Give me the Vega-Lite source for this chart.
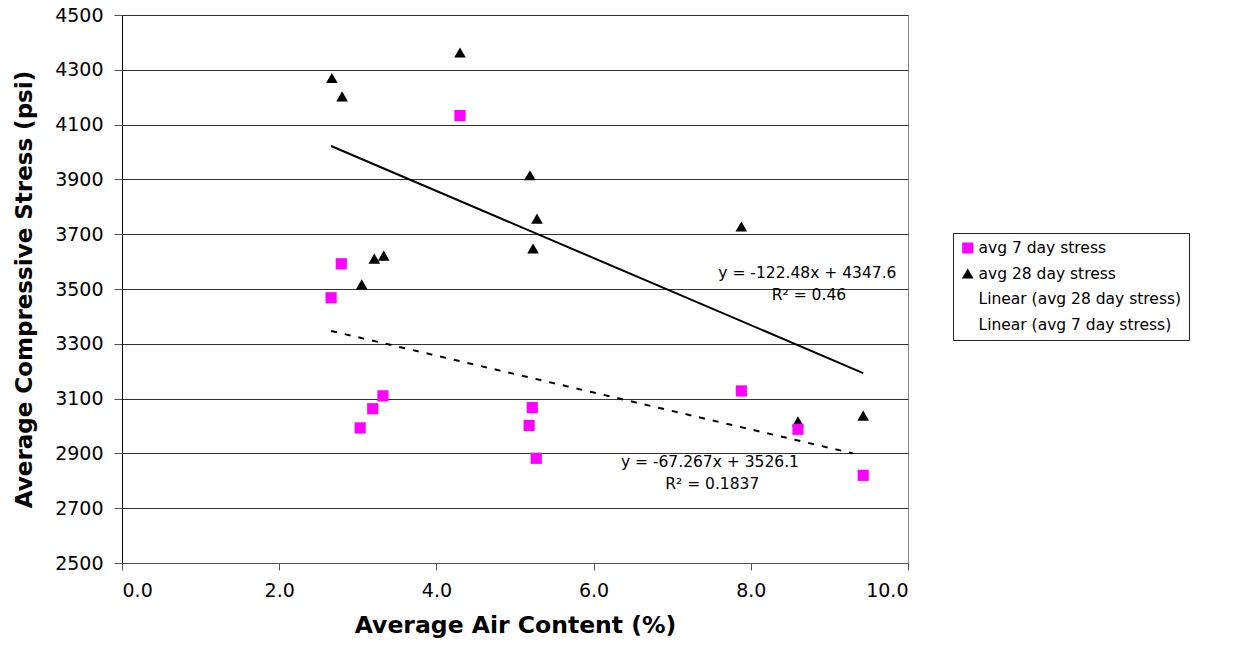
{
  "$schema": "https://vega.github.io/schema/vega-lite/v6.json",
  "autosize": {"type": "none"},
  "padding": {"left": 122, "top": 15, "right": 339, "bottom": 86},
  "width": 786,
  "height": 548,
  "background": "white",
  "config": {
    "font": "DejaVu Sans",
    "view": {"stroke": "#888888", "strokeWidth": 1},
    "legend": {
      "title": null,
      "orient": "none",
      "legendX": 831,
      "legendY": 218,
      "strokeColor": "#222222",
      "padding": 7,
      "rowPadding": 8.5,
      "clipHeight": 16,
      "labelFontSize": 15.5,
      "labelColor": "black",
      "labelLimit": 300,
      "labelOffset": 3,
      "symbolOpacity": 1
    }
  },
  "datasets": {
    "pts": [
      {"air": 2.67, "stress": 4270, "series": "avg 28 day stress"},
      {"air": 2.80, "stress": 4203, "series": "avg 28 day stress"},
      {"air": 4.30, "stress": 4363, "series": "avg 28 day stress"},
      {"air": 5.19, "stress": 3915, "series": "avg 28 day stress"},
      {"air": 5.28, "stress": 3757, "series": "avg 28 day stress"},
      {"air": 5.23, "stress": 3648, "series": "avg 28 day stress"},
      {"air": 3.05, "stress": 3517, "series": "avg 28 day stress"},
      {"air": 3.21, "stress": 3611, "series": "avg 28 day stress"},
      {"air": 3.33, "stress": 3622, "series": "avg 28 day stress"},
      {"air": 7.88, "stress": 3728, "series": "avg 28 day stress"},
      {"air": 8.60, "stress": 3017, "series": "avg 28 day stress"},
      {"air": 9.43, "stress": 3038, "series": "avg 28 day stress"},
      {"air": 2.66, "stress": 3468, "series": "avg 7 day stress"},
      {"air": 2.79, "stress": 3592, "series": "avg 7 day stress"},
      {"air": 4.30, "stress": 4133, "series": "avg 7 day stress"},
      {"air": 3.03, "stress": 2993, "series": "avg 7 day stress"},
      {"air": 3.19, "stress": 3063, "series": "avg 7 day stress"},
      {"air": 3.32, "stress": 3110, "series": "avg 7 day stress"},
      {"air": 5.18, "stress": 3002, "series": "avg 7 day stress"},
      {"air": 5.22, "stress": 3067, "series": "avg 7 day stress"},
      {"air": 5.27, "stress": 2882, "series": "avg 7 day stress"},
      {"air": 7.88, "stress": 3128, "series": "avg 7 day stress"},
      {"air": 8.60, "stress": 2988, "series": "avg 7 day stress"},
      {"air": 9.43, "stress": 2820, "series": "avg 7 day stress"}
    ],
    "trend": [
      {"air": 2.66, "stress": 4022, "series": "Linear (avg 28 day stress)"},
      {"air": 9.43, "stress": 3193, "series": "Linear (avg 28 day stress)"},
      {"air": 2.66, "stress": 3347, "series": "Linear (avg 7 day stress)"},
      {"air": 9.30, "stress": 2900, "series": "Linear (avg 7 day stress)"}
    ],
    "notes": [
      {"air": 8.72, "stress": 3558, "label": "y = -122.48x + 4347.6"},
      {"air": 8.74, "stress": 3478, "label": "R² = 0.46"},
      {"air": 7.48, "stress": 2869, "label": "y = -67.267x + 3526.1"},
      {"air": 7.51, "stress": 2789, "label": "R² = 0.1837"}
    ]
  },
  "encoding": {
    "x": {
      "field": "air", "type": "quantitative",
      "scale": {"domain": [0, 10], "nice": false, "zero": false},
      "axis": {
        "title": "Average Air Content (%)",
        "values": [0, 2, 4, 6, 8, 10], "format": ".1f",
        "grid": false, "domainColor": "#555555", "tickColor": "#555555",
        "tickSize": 7, "labelPadding": 11, "labelFontSize": 19, "labelColor": "black",
        "titleFontSize": 23.5, "titleFontWeight": "bold", "titleColor": "black", "titlePadding": 13
      }
    },
    "y": {
      "field": "stress", "type": "quantitative",
      "scale": {"domain": [2500, 4500], "nice": false, "zero": false},
      "axis": {
        "title": "Average Compressive Stress (psi)",
        "values": [2500, 2700, 2900, 3100, 3300, 3500, 3700, 3900, 4100, 4300, 4500],
        "format": "d",
        "grid": true, "gridColor": "#333333", "gridWidth": 1,
        "domainColor": "black", "tickColor": "#555555",
        "tickSize": 8, "labelPadding": 11, "labelFontSize": 19, "labelColor": "black",
        "titleFontSize": 23, "titleFontWeight": "bold", "titleColor": "black", "titlePadding": 18
      }
    }
  },
  "layer": [
    {
      "data": {"name": "trend"},
      "transform": [{"filter": "datum.series == 'Linear (avg 28 day stress)'"}],
      "mark": {"type": "line", "color": "black", "strokeWidth": 2},
      "encoding": {}
    },
    {
      "data": {"name": "trend"},
      "transform": [{"filter": "datum.series == 'Linear (avg 7 day stress)'"}],
      "mark": {"type": "line", "color": "black", "strokeWidth": 2, "strokeDash": [6, 8]},
      "encoding": {}
    },
    {
      "data": {"name": "pts"},
      "mark": {"type": "point", "filled": true, "opacity": 1},
      "encoding": {
        "color": {
          "field": "series", "type": "nominal",
          "scale": {
            "domain": ["avg 7 day stress", "avg 28 day stress", "Linear (avg 28 day stress)", "Linear (avg 7 day stress)"],
            "range": ["#ff00ff", "#000000", "#000000", "#000000"]
          }
        },
        "stroke": {
          "field": "series", "type": "nominal",
          "scale": {
            "domain": ["avg 7 day stress", "avg 28 day stress", "Linear (avg 28 day stress)", "Linear (avg 7 day stress)"],
            "range": ["#ff00ff", "#000000", "#000000", "#000000"]
          }
        },
        "shape": {
          "field": "series", "type": "nominal",
          "scale": {
            "domain": ["avg 7 day stress", "avg 28 day stress", "Linear (avg 28 day stress)", "Linear (avg 7 day stress)"],
            "range": ["square", "triangle-up", "M-1,0H1", "M-1,0H1"]
          }
        },
        "size": {
          "field": "series", "type": "nominal",
          "scale": {
            "domain": ["avg 7 day stress", "avg 28 day stress", "Linear (avg 28 day stress)", "Linear (avg 7 day stress)"],
            "range": [125, 160, 4624, 4624]
          }
        },
        "strokeWidth": {
          "field": "series", "type": "nominal",
          "scale": {
            "domain": ["avg 7 day stress", "avg 28 day stress", "Linear (avg 28 day stress)", "Linear (avg 7 day stress)"],
            "range": [0, 0, 2, 2]
          }
        },
        "strokeDash": {
          "field": "series", "type": "nominal",
          "scale": {
            "domain": ["avg 7 day stress", "avg 28 day stress", "Linear (avg 28 day stress)", "Linear (avg 7 day stress)"],
            "range": [[1, 0], [1, 0], [1, 0], [6, 13]]
          }
        }
      }
    },
    {
      "data": {"name": "notes"},
      "mark": {"type": "text", "fontSize": 15.5, "color": "black", "align": "center", "baseline": "middle"},
      "encoding": {
        "text": {"field": "label"}
      }
    }
  ]
}
